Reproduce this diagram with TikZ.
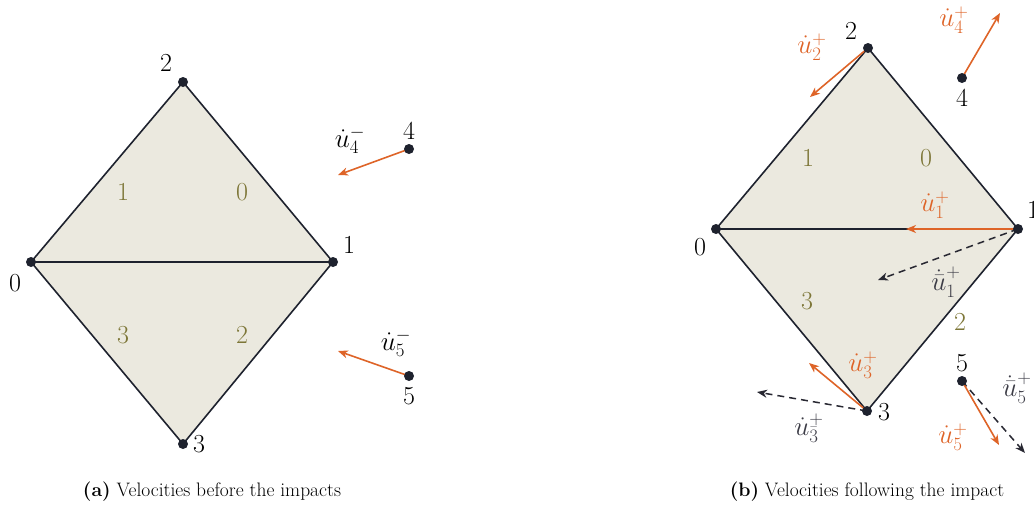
\RequirePackage{fix-cm}
\documentclass[tikz,border=0pt]{standalone}
\usetikzlibrary{arrows.meta}
\definecolor{facefill}{RGB}{235,233,223}
\definecolor{facelab}{RGB}{125,118,55}
\definecolor{orng}{RGB}{222,100,40}
\definecolor{dotc}{RGB}{30,34,46}
\definecolor{dashc}{RGB}{40,40,50}
\definecolor{dashlab}{RGB}{60,60,70}
\tikzset{
  dotnode/.style={circle,fill=dotc,inner sep=0pt,minimum size=10pt},
  edgeline/.style={draw=dotc,line width=1.6pt},
  vlab/.style={font=\fontsize{26}{30}\selectfont,inner sep=0pt},
  flab/.style={font=\fontsize{26}{30}\selectfont,text=facelab,inner sep=0pt},
  olab/.style={font=\fontsize{27}{30}\selectfont,text=orng,inner sep=0pt},
  dlab/.style={font=\fontsize{27}{30}\selectfont,text=dashlab,inner sep=0pt},
  klab/.style={font=\fontsize{27}{30}\selectfont,inner sep=0pt},
  oarrow/.style={draw=orng,line width=1.6pt,-{Stealth[length=10pt,width=8pt,inset=3pt]}},
  darrow/.style={draw=dashc,line width=1.5pt,dash pattern=on 7pt off 5pt,-{Stealth[length=10pt,width=8pt,inset=3pt]}},
  caplab/.style={font=\fontsize{19.5}{22}\selectfont,inner sep=0pt}
}
\begin{document}
\begin{tikzpicture}[x=1pt,y=-1pt]
\useasboundingbox (0,0) rectangle (1034,504);
% ---------- (a) ----------
\coordinate (a0) at (31,262);
\coordinate (a1) at (333,262);
\coordinate (a2) at (183,82);
\coordinate (a3) at (183,444);
\coordinate (a4) at (409,149);
\coordinate (a5) at (409,376);
\coordinate (a4e) at (338,175);
\coordinate (a5e) at (338,351);
\fill[facefill] (a0) -- (a2) -- (a1) -- (a3) -- cycle;
\draw[edgeline] (a0) -- (a2) -- (a1) -- (a3) -- cycle;
\draw[edgeline] (a0) -- (a1);
\draw[oarrow] (a4) -- (a4e);
\draw[oarrow] (a5) -- (a5e);
\foreach \p in {a0,a1,a2,a3,a4,a5} \node[dotnode] at (\p) {};
\node[vlab] (la0) at (15,283) {0};
\node[vlab] (la1) at (349,245) {1};
\node[vlab] (la2) at (166,63) {2};
\node[vlab] (la3) at (199,444) {3};
\node[vlab] (la4) at (409,131) {4};
\node[vlab] (la5) at (409,396) {5};
\node[flab] (fa1) at (123,192) {1};
\node[flab] (fa0) at (242,192) {0};
\node[flab] (fa3) at (123,335) {3};
\node[flab] (fa2) at (242,335) {2};
\node[klab] (ua4) at (350,140) {$\dot{u}_4^-$};
\node[klab] (ua5) at (396,343) {$\dot{u}_5^-$};
\node[caplab] (capa) at (212,492) {\textbf{(a)} Velocities before the impacts};
% ---------- (b) ----------
\coordinate (b0) at (716,229);
\coordinate (b1) at (1018,229);
\coordinate (b2) at (868,48);
\coordinate (b3) at (867,411);
\coordinate (b4) at (962,78);
\coordinate (b5) at (962,381);
\coordinate (b2e) at (810,97);
\coordinate (b4e) at (1000,13);
\coordinate (b1e) at (906,229);
\coordinate (b1d) at (878,280);
\coordinate (b3e) at (809,363);
\coordinate (b3d) at (757,392);
\coordinate (b5e) at (999,445);
\coordinate (b5d) at (1025,453);
\fill[facefill] (b0) -- (b2) -- (b1) -- (b3) -- cycle;
\draw[edgeline] (b0) -- (b2) -- (b1) -- (b3) -- cycle;
\draw[edgeline] (b0) -- (b1);
\draw[darrow] (b1) -- (b1d);
\draw[darrow] (b3) -- (b3d);
\draw[darrow] (b5) -- (b5d);
\draw[oarrow] (b2) -- (b2e);
\draw[oarrow] (b4) -- (b4e);
\draw[oarrow] (b1) -- (b1e);
\draw[oarrow] (b3) -- (b3e);
\draw[oarrow] (b5) -- (b5e);
\foreach \p in {b0,b1,b2,b3,b4,b5} \node[dotnode] at (\p) {};
\node[vlab] (lb0) at (700,247) {0};
\node[vlab] (lb1) at (1033,210) {1};
\node[vlab] (lb2) at (851,31) {2};
\node[vlab] (lb3) at (884,412) {3};
\node[vlab] (lb4) at (962,98) {4};
\node[vlab] (lb5) at (962,363) {5};
\node[flab] (fb1) at (808,158) {1};
\node[flab] (fb0) at (926,158) {0};
\node[flab] (fb3) at (807,301) {3};
\node[flab] (fb2) at (960,322) {2};
\node[olab] (ub2) at (812,47) {$\dot{u}_2^+$};
\node[olab] (ub4) at (954,20) {$\dot{u}_4^+$};
\node[olab] (ub1) at (935,205) {$\dot{u}_1^+$};
\node[olab] (ub3) at (863,365) {$\dot{u}_3^+$};
\node[olab] (ub5) at (953,437) {$\dot{u}_5^+$};
\node[dlab] (db1) at (946,282) {$\dot{\bar{u}}_1^+$};
\node[dlab] (db3) at (809,428) {$\dot{u}^+_{\bar{3}}$};
\node[dlab] (db5) at (1017,388) {$\dot{\bar{u}}_5^+$};
\node[caplab] (capb) at (867,492) {\textbf{(b)} Velocities following the impact};
\end{tikzpicture}
\end{document}
